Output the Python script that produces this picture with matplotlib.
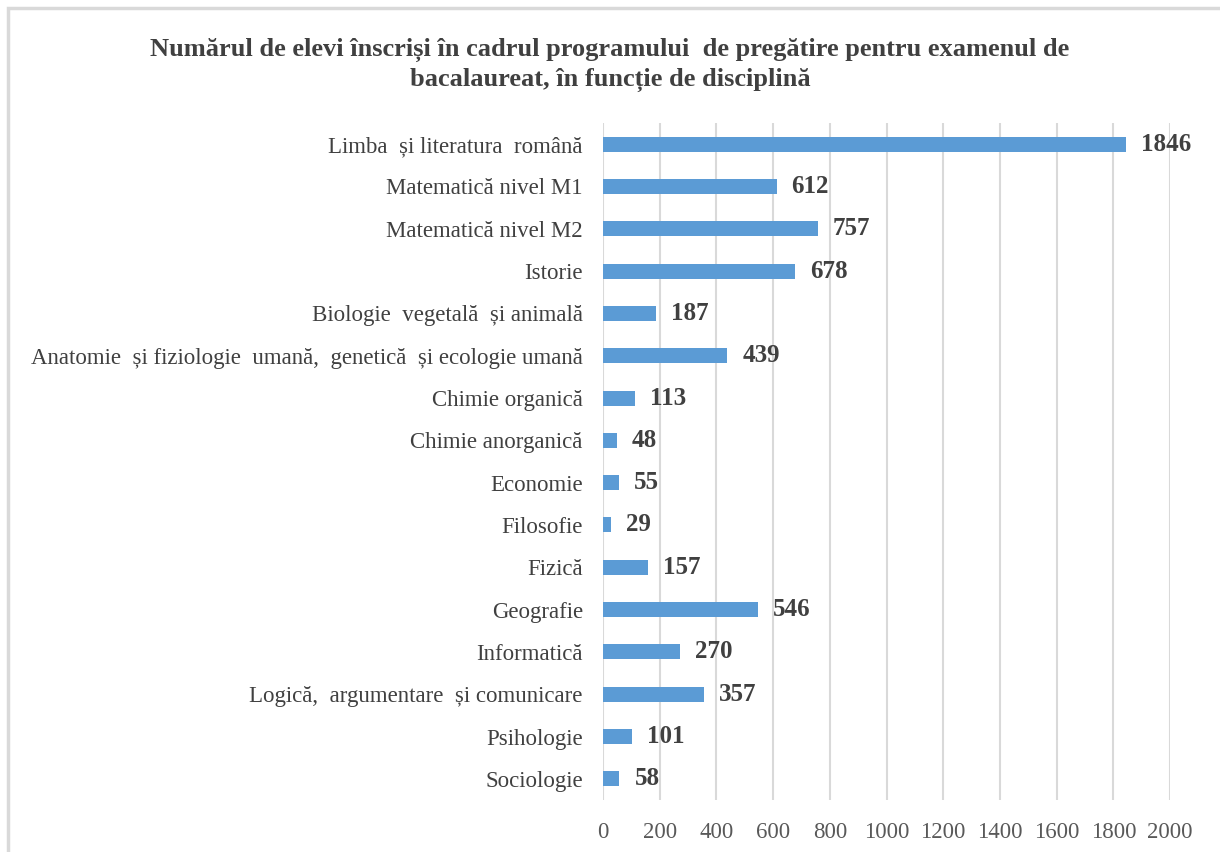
import matplotlib
matplotlib.use("Agg")
import matplotlib.pyplot as plt
from matplotlib.patches import Rectangle

categories = [
    "Limba  și literatura  română",
    "Matematică nivel M1",
    "Matematică nivel M2",
    "Istorie",
    "Biologie  vegetală  și animală",
    "Anatomie  și fiziologie  umană,  genetică  și ecologie umană",
    "Chimie organică",
    "Chimie anorganică",
    "Economie",
    "Filosofie",
    "Fizică",
    "Geografie",
    "Informatică",
    "Logică,  argumentare  și comunicare",
    "Psihologie",
    "Sociologie",
]
values = [1846, 612, 757, 678, 187, 439, 113, 48, 55, 29, 157, 546, 270, 357, 101, 58]
xticks = [0, 200, 400, 600, 800, 1000, 1200, 1400, 1600, 1800, 2000]
title = "Numărul de elevi înscriși în cadrul programului  de pregătire pentru examenul de\nbacalaureat, în funcție de disciplină"

plt.rcParams['font.family'] = ['Liberation Serif', 'DejaVu Serif']

fig = plt.figure(figsize=(12.2, 8.52), dpi=100)
W, H = 1220, 852
ax = fig.add_axes([603 / W, 1 - 800 / H, (1170 - 603) / W, (800 - 123) / H])

n = len(categories)
ypos = list(range(n))
ax.barh(ypos, values, height=0.355, color='#5B9BD5', zorder=3)
ax.set_ylim(n - 0.5, -0.5)
ax.set_xlim(0, 2000)
ax.set_yticks(ypos)
ax.set_yticklabels(categories, fontsize=16.5, color='#404040')
ax.set_xticks(xticks)
ax.set_xticklabels([str(t) for t in xticks], fontsize=16.5, color='#595959')
ax.tick_params(axis='both', length=0)
ax.tick_params(axis='y', pad=14.5)
ax.tick_params(axis='x', pad=15.5)
for s in ax.spines.values():
    s.set_visible(False)
ax.grid(axis='x', color='#D9D9D9', linewidth=1.5, zorder=0)

for y, v in zip(ypos, values):
    ax.annotate(str(v), xy=(v, y), xytext=(15, 0), textcoords='offset pixels',
                ha='left', va='center', fontsize=18, fontweight='bold', color='#404040')

fig.text(0.5, 1 - 65 / H, title, ha='center', va='center', fontsize=19,
         fontweight='bold', color='#404040', linespacing=1.35)

# figure border (only top and left visible in reference)
fig.patches.append(Rectangle((8 / W, -0.1), 1.2, 1 - 8 / H + 0.1, transform=fig.transFigure,
                             fill=False, edgecolor='#D9D9D9', linewidth=2.5))

fig.savefig("out.png", dpi=100, facecolor='white')
